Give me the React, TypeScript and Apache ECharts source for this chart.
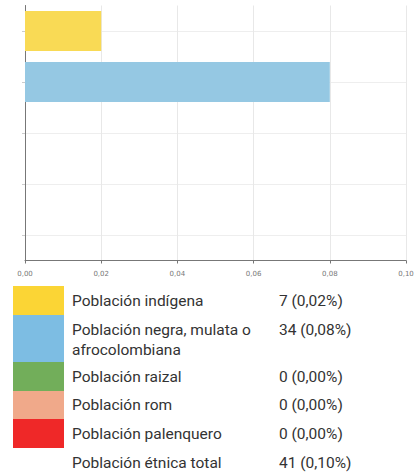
import React, { useEffect, useRef } from "react";
import * as echarts from "echarts";

const categories = [
  "Población indígena",
  "Población negra, mulata o afrocolombiana",
  "Población raizal",
  "Población rom",
  "Población palenquero",
];
const legendLabels = [
  "Población indígena",
  "Población negra, mulata o\nafrocolombiana",
  "Población raizal",
  "Población rom",
  "Población palenquero",
];
const percents = [0.02, 0.08, 0, 0, 0];
const counts = [7, 34, 0, 0, 0];
const barColors = ["#F9DA55", "#95C8E3", "#72AE5A", "#F0A98A", "#EF2828"];
const swatchColors = ["#FBD535", "#7DBDE3", "#72AE5A", "#F0A98A", "#EF2828"];
const totalLabel = "Población étnica total";
const totalCount = 41;
const totalPercent = 0.1;
const xTicks = [0, 0.02, 0.04, 0.06, 0.08, 0.1];

const fmt = (v: number) => v.toFixed(2).replace(".", ",");

export default function App() {
  const ref = useRef<HTMLDivElement>(null);
  useEffect(() => {
    document.body.style.margin = "0";
    const chart = echarts.init(ref.current!, null, { renderer: "svg" });
    const rowTops = [286, 315, 362, 391, 419];
    const rowBottoms = [315, 362, 391, 419, 448];
    const font = "15.5px Roboto";
    const graphics: any[] = [];
    legendLabels.forEach((lab, i) => {
      graphics.push({
        type: "rect",
        shape: { x: 13, y: rowTops[i], width: 51, height: rowBottoms[i] - rowTops[i] },
        style: { fill: swatchColors[i] },
      });
      const multi = lab.split("\n").length > 1;
      const y = multi ? rowTops[i] + 5 : (rowTops[i] + rowBottoms[i]) / 2;
      const va = multi ? "top" : "middle";
      graphics.push({
        type: "text",
        x: 72,
        y,
        style: { text: lab, fill: "#333", font, lineHeight: 20, verticalAlign: va },
      });
      graphics.push({
        type: "text",
        x: 279,
        y,
        style: {
          text: `${counts[i]} (${fmt(percents[i])}%)`,
          fill: "#333",
          font,
          lineHeight: 20,
          verticalAlign: va,
        },
      });
    });
    graphics.push({
      type: "text",
      x: 72,
      y: 463,
      style: { text: totalLabel, fill: "#333", font, verticalAlign: "middle" },
    });
    graphics.push({
      type: "text",
      x: 279,
      y: 463,
      style: {
        text: `${totalCount} (${fmt(totalPercent)}%)`,
        fill: "#333",
        font,
        verticalAlign: "middle",
      },
    });

    chart.setOption({
      animation: false,
      grid: { left: 25, top: 5.5, right: 11, bottom: 215.5, containLabel: false },
      xAxis: {
        type: "value",
        min: xTicks[0],
        max: xTicks[xTicks.length - 1],
        interval: xTicks[1] - xTicks[0],
        axisLine: { show: true, lineStyle: { color: "#777", width: 1 } },
        axisTick: { show: true, length: 3, lineStyle: { color: "#777" } },
        axisLabel: {
          fontSize: 7,
          color: "#777",
          margin: 10,
          fontFamily: "DejaVu Sans",
          formatter: (v: number) => fmt(v),
        },
        splitLine: { show: true, lineStyle: { color: "#e8e8e8", width: 1 } },
      },
      yAxis: {
        type: "category",
        inverse: true,
        data: categories,
        axisLine: { show: true, lineStyle: { color: "#777", width: 1 } },
        axisTick: { show: true, length: 3, alignWithLabel: true, lineStyle: { color: "#ccc" } },
        axisLabel: { show: false },
        splitLine: { show: true, alignWithLabel: true, lineStyle: { color: "#eeeeee", width: 1 } },
      },
      series: [
        {
          type: "bar",
          barWidth: 40,
          data: percents.map((v, i) => ({ value: v, itemStyle: { color: barColors[i] } })),
        },
      ],
      graphic: graphics,
    });
    return () => chart.dispose();
  }, []);
  return <div ref={ref} style={{ width: 417, height: 476 }} />;
}
